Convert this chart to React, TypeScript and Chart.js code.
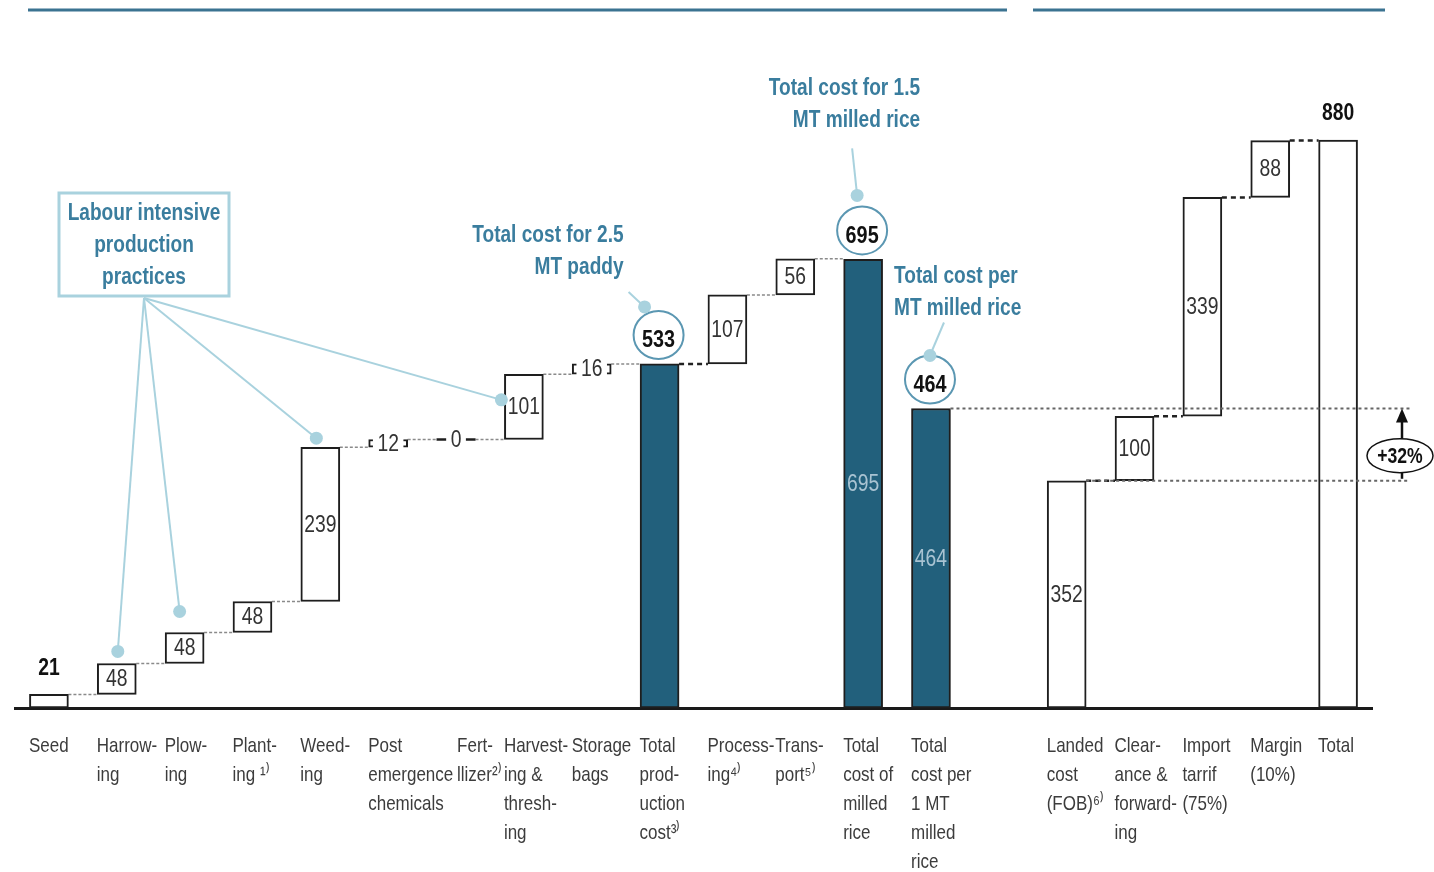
import React, { useEffect, useRef } from 'react';
import { Chart, registerables } from 'chart.js';

Chart.register(...registerables);

// ---------- data ----------
const categories: string[][] = [
  ['Seed'],
  ['Harrow-', 'ing'],
  ['Plow-', 'ing'],
  ['Plant-', 'ing ¹⁾'],
  ['Weed-', 'ing'],
  ['Post', 'emergence', 'chemicals'],
  ['Fert-', 'llizer²⁾'],
  ['Harvest-', 'ing &', 'thresh-', 'ing'],
  ['Storage', 'bags'],
  ['Total', 'prod-', 'uction', 'cost³⁾'],
  ['Process-', 'ing⁴⁾'],
  ['Trans-', 'port⁵⁾'],
  ['Total', 'cost of', 'milled', 'rice'],
  ['Total', 'cost per', '1 MT', 'milled', 'rice'],
  [''],
  ['Landed', 'cost', '(FOB)⁶⁾'],
  ['Clear-', 'ance &', 'forward-', 'ing'],
  ['Import', 'tarrif', '(75%)'],
  ['Margin', '(10%)'],
  ['Total'],
];

const values: (number | null)[] = [21, 48, 48, 48, 239, 12, 0, 101, 16, 533, 107, 56, 695, 464, null, 352, 100, 339, 88, 880];

// start = from zero, step = floating increment, subtotal = highlighted total, perUnit = highlighted standalone, total = final white total
const kinds: string[] = [
  'start', 'step', 'step', 'step', 'step', 'step', 'step', 'step', 'step', 'subtotal',
  'step', 'step', 'subtotal', 'perUnit', 'gap', 'start', 'step', 'step', 'step', 'total',
];

const labelModes: string[] = [
  'above', 'inside', 'inside', 'inside', 'inside', 'overlay', 'overlay', 'inside', 'overlay', 'circle',
  'inside', 'inside', 'circleInside', 'circleInside', 'none', 'inside', 'inside', 'inside', 'inside', 'above',
];

const increaseLabel = '+32%';
const labourNote = ['Labour intensive', 'production', 'practices'];
const labourTargets = [1, 2, 4, 7];
const noteProduction = ['Total cost for 2.5', 'MT paddy'];
const noteMilled = ['Total cost for 1.5', 'MT milled rice'];
const notePerMT = ['Total cost per', 'MT milled rice'];

// ---------- derived floating ranges ----------
let running = 0;
const ranges: ([number, number] | null)[] = values.map((v, i) => {
  if (v === null) return null;
  if (kinds[i] === 'step') {
    const r: [number, number] = [running, running + v];
    running += v;
    return r;
  }
  running = v;
  return [0, v];
});

const TEAL = '#22607c';
const CALLOUT = '#a9d2de';
const NOTE_TEXT = '#3a7d9e';
const FAMILY = "'Liberation Sans', Arial, sans-serif";
const font = (size: number, weight = 'normal') => `${weight} ${size}px ${FAMILY}`;

// narrow text: Arial-metric font compressed horizontally
function sText(ctx: CanvasRenderingContext2D, text: string, x: number, y: number, f: string, color: string, align: CanvasTextAlign = 'center', sx = 0.83) {
  ctx.save();
  ctx.translate(x, y);
  ctx.scale(sx, 1);
  ctx.font = f;
  ctx.fillStyle = color;
  ctx.textAlign = align;
  ctx.textBaseline = 'middle';
  ctx.fillText(text, 0, 0);
  ctx.restore();
}
function sWidth(ctx: CanvasRenderingContext2D, text: string, f: string, sx = 0.83) {
  ctx.save();
  ctx.font = f;
  const w = ctx.measureText(text).width * sx;
  ctx.restore();
  return w;
}

const overlayPlugin = {
  id: 'overlay',
  beforeDatasetsDraw(chart: any) {
    const ctx = chart.ctx;
    const ys = chart.scales.y;
    const meta = chart.getDatasetMeta(0);
    ctx.save();
    for (let i = 0; i < ranges.length - 1; i++) {
      const a = ranges[i];
      const b = ranges[i + 1];
      if (!a || !b) continue;
      const nk = kinds[i + 1];
      if (!(nk === 'step' || nk === 'subtotal' || nk === 'total')) continue;
      const ea = meta.data[i];
      const eb = meta.data[i + 1];
      const py = ys.getPixelForValue(a[1]);
      const dark = i === 9 || i >= 15;
      ctx.strokeStyle = dark ? '#222' : '#8a8a8a';
      ctx.lineWidth = dark ? 2.5 : 1.5;
      ctx.setLineDash(dark ? [5, 4] : [3, 2]);
      ctx.beginPath();
      ctx.moveTo(ea.x + ea.width / 2, py);
      ctx.lineTo(eb.x - eb.width / 2, py);
      ctx.stroke();
    }
    ctx.restore();
  },
  afterDatasetsDraw(chart: any) {
    const ctx = chart.ctx;
    const ys = chart.scales.y;
    const xs = chart.scales.x;
    const meta = chart.getDatasetMeta(0);
    const el = (i: number) => meta.data[i];
    ctx.save();

    // category labels (left aligned at bar's left edge)
    categories.forEach((lines, i) => {
      const nudge = i === 6 ? 21 : 0;
      const x0 = xs.getPixelForTick(i) - 20 + nudge;
      lines.forEach((t, k) => sText(ctx, t, x0, xs.top + 38 + k * 29, font(21), '#3c3c3c', 'left', 0.81));
    });

    // header rules
    ctx.strokeStyle = '#3b7391';
    ctx.lineWidth = 3;
    ctx.beginPath();
    ctx.moveTo(28, 10);
    ctx.lineTo(1007, 10);
    ctx.moveTo(1033, 10);
    ctx.lineTo(1385, 10);
    ctx.stroke();

    // reference lines for +32%
    const i464 = 13;
    const i352 = 15;
    const yTop = ys.getPixelForValue(ranges[i464]![1]);
    const yBot = ys.getPixelForValue(ranges[i352]![1]);
    const arrowX = chart.chartArea.right + 30;
    ctx.strokeStyle = '#666';
    ctx.lineWidth = 2;
    ctx.setLineDash([3, 3]);
    ctx.beginPath();
    ctx.moveTo(el(i464).x + el(i464).width / 2, yTop);
    ctx.lineTo(arrowX + 8, yTop);
    ctx.moveTo(el(i352).x + el(i352).width / 2, yBot);
    ctx.lineTo(arrowX + 8, yBot);
    ctx.stroke();
    ctx.setLineDash([]);

    // arrow
    ctx.strokeStyle = '#111';
    ctx.fillStyle = '#111';
    ctx.lineWidth = 2.5;
    ctx.beginPath();
    ctx.moveTo(arrowX, yBot - 2);
    ctx.lineTo(arrowX, yTop + 12);
    ctx.stroke();
    ctx.beginPath();
    ctx.moveTo(arrowX, yTop);
    ctx.lineTo(arrowX - 6, yTop + 14);
    ctx.lineTo(arrowX + 6, yTop + 14);
    ctx.closePath();
    ctx.fill();
    const ecy = (yTop + yBot) / 2 + 11;
    ctx.beginPath();
    ctx.ellipse(arrowX - 2, ecy, 33, 17, 0, 0, Math.PI * 2);
    ctx.fillStyle = '#fff';
    ctx.fill();
    ctx.lineWidth = 1.5;
    ctx.stroke();
    sText(ctx, increaseLabel, arrowX - 2, ecy + 1, font(22, 'bold'), '#111', 'center', 0.8);

    // value labels
    values.forEach((v, i) => {
      if (v === null) return;
      const e = el(i);
      const mode = labelModes[i];
      const text = String(v);
      const mid = (e.y + e.base) / 2;
      if (mode === 'inside') {
        sText(ctx, text, e.x, mid + 1, font(23), '#333', 'center', 0.84);
      } else if (mode === 'above') {
        sText(ctx, text, e.x, e.y - 26, font(23, 'bold'), '#111', 'center', 0.84);
      } else if (mode === 'overlay') {
        if (Math.abs(e.base - e.y) < 1) {
          ctx.strokeStyle = '#1e1e1e';
          ctx.lineWidth = 2.5;
          ctx.beginPath();
          ctx.moveTo(e.x - e.width / 2, e.y);
          ctx.lineTo(e.x + e.width / 2, e.y);
          ctx.stroke();
        }
        const w = sWidth(ctx, text, font(23), 0.84) + 9;
        ctx.fillStyle = '#fff';
        ctx.fillRect(e.x - w / 2, mid - 11, w, 22);
        sText(ctx, text, e.x, mid + 1, font(23), '#333', 'center', 0.84);
      }
      if (mode === 'circle' || mode === 'circleInside') {
        const cx = e.x - 1;
        const cy = e.y - 29;
        ctx.strokeStyle = '#5b97b2';
        ctx.lineWidth = 2;
        ctx.beginPath();
        ctx.ellipse(cx, cy, 25, 24, 0, 0, Math.PI * 2);
        ctx.stroke();
        sText(ctx, text, cx, cy + 6, font(23, 'bold'), '#111', 'center', 0.86);
      }
      if (mode === 'circleInside') {
        sText(ctx, text, e.x, mid + 1, font(23), '#a9c3d2', 'center', 0.84);
      }
    });

    // callout helpers
    const dot = (x: number, y: number) => {
      ctx.fillStyle = CALLOUT;
      ctx.beginPath();
      ctx.arc(x, y, 6.5, 0, Math.PI * 2);
      ctx.fill();
    };
    const line = (x1: number, y1: number, x2: number, y2: number) => {
      ctx.strokeStyle = CALLOUT;
      ctx.lineWidth = 2;
      ctx.beginPath();
      ctx.moveTo(x1, y1);
      ctx.lineTo(x2, y2);
      ctx.stroke();
    };
    const note = (lines: string[], x: number, y: number, align: CanvasTextAlign) => {
      lines.forEach((t, k) => sText(ctx, t, x, y + k * 32, font(23, 'bold'), NOTE_TEXT, align, 0.83));
    };

    // Labour intensive box
    const bx = 59, by = 193, bw = 170, bh = 103;
    const anchorX = bx + bw / 2;
    const anchorY = by + bh + 2;
    const targets: [number, number][] = labourTargets.map((i, k) => {
      const e = el(i);
      if (k === 0) return [e.x + 1, e.y - 12];
      if (k === 1) return [e.x - 5, e.y - 21];
      if (k === 2) return [e.x - 4, e.y - 9];
      return [e.x - e.width / 2 - 3, (e.y + e.base) / 2 - 7];
    });
    targets.forEach(([tx, ty]) => line(anchorX, anchorY, tx, ty));
    targets.forEach(([tx, ty]) => dot(tx, ty));
    ctx.strokeStyle = CALLOUT;
    ctx.lineWidth = 3;
    ctx.fillStyle = '#fff';
    ctx.fillRect(bx, by, bw, bh);
    ctx.strokeRect(bx, by, bw, bh);
    labourNote.forEach((t, k) => sText(ctx, t, anchorX, by + 21 + k * 32, font(23, 'bold'), NOTE_TEXT, 'center', 0.83));

    // Total production cost note
    const p = el(9);
    line(p.x - 31, p.y - 72, p.x - 15, p.y - 57);
    dot(p.x - 15, p.y - 57);
    note(noteProduction, p.x - 36, p.y - 128, 'right');

    // Total milled rice note
    const m = el(12);
    line(m.x - 11, m.y - 111, m.x - 6, m.y - 64);
    dot(m.x - 6, m.y - 64);
    note(noteMilled, m.x + 57, m.y - 171, 'right');

    // Per MT note
    const u = el(13);
    line(u.x + 13, u.y - 86, u.x - 1, u.y - 53);
    dot(u.x - 1, u.y - 53);
    note(notePerMT, u.x - 37, u.y - 132, 'left');

    ctx.restore();
  },
};

export default function App() {
  const canvasRef = useRef<HTMLCanvasElement | null>(null);

  useEffect(() => {
    const canvas = canvasRef.current;
    if (!canvas) return;
    const fills = kinds.map((k) => (k === 'subtotal' || k === 'perUnit' ? TEAL : '#ffffff'));
    const chart = new Chart(canvas, {
      type: 'bar',
      data: {
        labels: categories,
        datasets: [
          {
            data: ranges as any,
            backgroundColor: fills,
            borderColor: '#1e1e1e',
            borderWidth: 2,
            borderSkipped: false,
            barThickness: 39,
          },
        ],
      },
      options: {
        responsive: false,
        animation: false,
        devicePixelRatio: 1,
        layout: { padding: { top: 62.5, left: 15, right: 62, bottom: 164 } },
        plugins: { legend: { display: false }, tooltip: { enabled: false } },
        scales: {
          x: {
            grid: { display: false, drawTicks: false },
            border: { display: true, color: '#1a1a1a', width: 3 },
            ticks: { display: false, autoSkip: false },
          },
          y: { display: false, min: 0, max: 1000 },
        },
      },
      plugins: [overlayPlugin],
    } as any);
    return () => chart.destroy();
  }, []);

  return (
    <div style={{ position: 'fixed', left: 0, top: 0, width: 1434, height: 872, background: '#fff' }}>
      <canvas ref={canvasRef} width={1434} height={872} />
    </div>
  );
}
